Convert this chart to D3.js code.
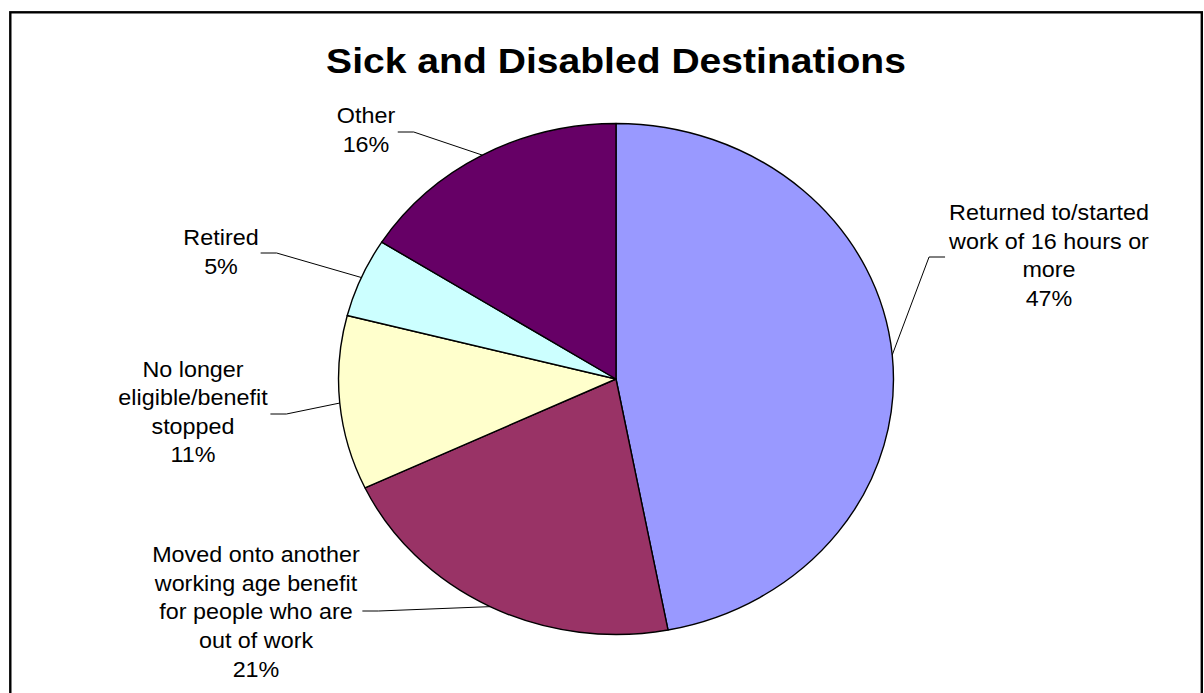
<!DOCTYPE html>
<html><head><meta charset="utf-8">
<script src="https://cdn.jsdelivr.net/npm/d3@7"></script>
<style>body{margin:0;background:#fff}svg{display:block}</style>
</head><body>
<svg id="chart" width="1204" height="693"></svg>
<script>
// ---- data ----
const title = "Sick and Disabled Destinations";
const categories = [
  "Returned to/started work of 16 hours or more",
  "Moved onto another working age benefit for people who are out of work",
  "No longer eligible/benefit stopped",
  "Retired",
  "Other"
];
const labelLines = [
  ["Returned to/started", "work of 16 hours or", "more"],
  ["Moved onto another", "working age benefit", "for people who are", "out of work"],
  ["No longer", "eligible/benefit", "stopped"],
  ["Retired"],
  ["Other"]
];
const values = [47, 21, 11, 5, 16];
const colors = ["#9999FF", "#993366", "#FFFFCC", "#CCFFFF", "#660066"];

// ---- layout ----
const W = 1204, H = 693;
const cx = 616, cy = 379, ry = 255.5, sx = 1.086;
const fontFam = "'Liberation Sans', Arial, Helvetica, sans-serif";
const lineH = 28.6;
// label anchor (center x, first baseline), leader y, side of leader
const labelLayout = [
  {x: 1049, y: 220,   ly: 257, side: "left"},
  {x: 256,  y: 562.3, ly: 611, side: "right"},
  {x: 193,  y: 376.7, ly: 414, side: "right"},
  {x: 221,  y: 245,   ly: 253, side: "right"},
  {x: 366,  y: 123.2, ly: 132, side: "right"}
];

const svg = d3.select("#chart");
svg.append("rect").attr("width", W).attr("height", H).attr("fill", "#fff");
// outer frame
svg.append("rect").attr("x", 10.3).attr("y", 12.3).attr("width", 1191.5).attr("height", 720)
  .attr("fill", "none").attr("stroke", "#000").attr("stroke-width", 2.4);

// title
svg.append("text")
  .attr("transform", `translate(${cx},73) scale(${sx},1)`)
  .attr("text-anchor", "middle")
  .attr("font-family", fontFam).attr("font-weight", "bold").attr("font-size", 36)
  .attr("fill", "#000").text(title);

// pie
const pie = d3.pie().sort(null).value(d => d)(values);
const arc = d3.arc().innerRadius(0).outerRadius(ry);
const gPie = svg.append("g").attr("transform", `translate(${cx},${cy}) scale(${sx},1)`);
gPie.selectAll("path").data(pie).join("path")
  .attr("d", arc)
  .attr("fill", (d, i) => colors[i])
  .attr("stroke", "#000").attr("stroke-width", 1.4)
  .attr("stroke-linejoin", "round")
  .attr("vector-effect", "non-scaling-stroke");

// labels
const gLab = svg.append("g");
pie.forEach((d, i) => {
  const L = labelLayout[i];
  const t = gLab.append("text")
    .attr("transform", `translate(${L.x},${L.y}) scale(${sx},1)`)
    .attr("text-anchor", "middle")
    .attr("font-family", fontFam).attr("font-size", 21.5).attr("fill", "#000");
  const lines = labelLines[i].concat([d3.format(".0%")(values[i] / d3.sum(values))]);
  lines.forEach((s, k) => {
    t.append("tspan").attr("x", 0).attr("y", k * lineH).text(s);
  });
  const bb = t.node().getBBox();
  const edgeX = L.side === "right" ? L.x + sx * (bb.x + bb.width) + 2 : L.x + sx * bb.x - 3;
  const elbowX = L.side === "right" ? edgeX + 16 : edgeX - 16;
  const mid = (d.startAngle + d.endAngle) / 2;
  const px = cx + sx * ry * Math.sin(mid), py = cy - ry * Math.cos(mid);
  gLab.append("polyline")
    .attr("points", `${edgeX},${L.ly} ${elbowX},${L.ly} ${px},${py}`)
    .attr("fill", "none").attr("stroke", "#000").attr("stroke-width", 1);
});
</script>
</body></html>
